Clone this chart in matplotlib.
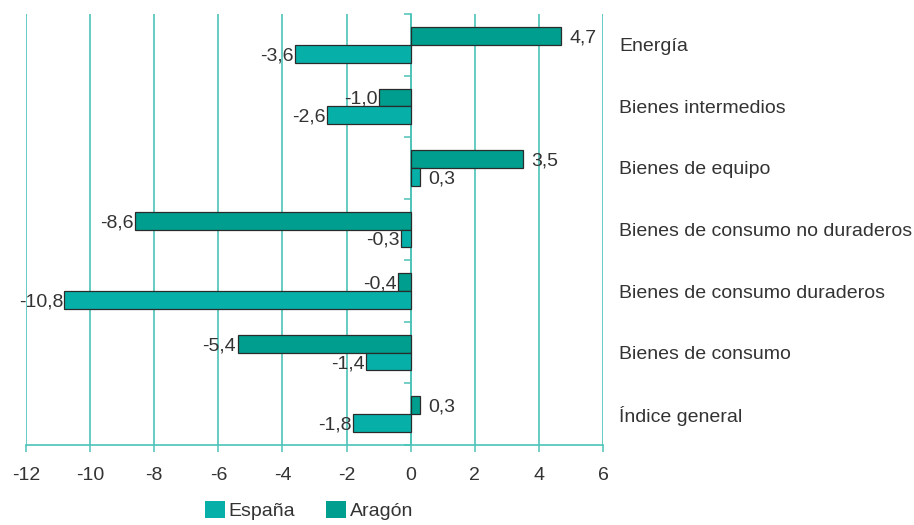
import matplotlib.pyplot as plt
import matplotlib.transforms as mtransforms
from matplotlib.patches import Patch
import numpy as np

# datos (de arriba a abajo)
categorias = ['Energía', 'Bienes intermedios', 'Bienes de equipo',
              'Bienes de consumo no duraderos', 'Bienes de consumo duraderos',
              'Bienes de consumo', 'Índice general']
aragon = [4.7, -1.0, 3.5, -8.6, -0.4, -5.4, 0.3]
espana = [-3.6, -2.6, 0.3, -0.3, -10.8, -1.4, -1.8]
xticks = [-12, -10, -8, -6, -4, -2, 0, 2, 4, 6]

col_esp = '#06b0a8'
col_ara = '#009e8e'
col_grid = '#4cc3b8'
col_txt = '#333333'

plt.rcParams['font.family'] = ['Liberation Sans', 'DejaVu Sans']
plt.rcParams['font.size'] = 14

fig = plt.figure(figsize=(9.14, 5.25), dpi=100)
ax = fig.add_axes([26/914, 1-445/525, 577/914, 431/525])

y = np.arange(len(categorias)) + 0.5
h = 0.29
ax.barh(y - h/2, aragon, h, color=col_ara, edgecolor='#2b2b2b', lw=0.9, zorder=3)
ax.barh(y + h/2, espana, h, color=col_esp, edgecolor='#2b2b2b', lw=0.9, zorder=3)

def etiqueta(v, yy):
    txt = ('%.1f' % v).replace('.', ',')
    if v >= 0:
        ax.annotate(txt, (v, yy), xytext=(6, 0), textcoords='offset points',
                    ha='left', va='center_baseline', color=col_txt, fontsize=14)
    else:
        ax.annotate(txt, (v, yy), xytext=(-1, 0), textcoords='offset points',
                    ha='right', va='center_baseline', color=col_txt, fontsize=14)

for i in range(len(categorias)):
    etiqueta(aragon[i], y[i] - h/2)
    etiqueta(espana[i], y[i] + h/2)

ax.set_xlim(-12, 6)
ax.set_ylim(len(categorias), 0)
ax.set_xticks(xticks)
ax.set_xticklabels([str(t) for t in xticks], color=col_txt)
ax.tick_params(axis='x', length=5, width=1.1, color=col_grid, pad=11)

for t in xticks:
    ax.axvline(t, color=col_grid, lw=1.2, zorder=1)

# eje vertical en cero
ax.spines['left'].set_position(('data', 0))
ax.spines['left'].set_color(col_grid)
ax.spines['left'].set_linewidth(1.2)
ax.set_yticks(np.arange(len(categorias) + 1))
ax.set_yticklabels([])
ax.tick_params(axis='y', length=5, width=1.1, color=col_grid)
ax.spines['bottom'].set_color(col_grid)
ax.spines['bottom'].set_linewidth(1.2)
ax.spines['top'].set_visible(False)
ax.spines['right'].set_visible(False)

trans = mtransforms.blended_transform_factory(ax.transAxes, ax.transData)
for i, c in enumerate(categorias):
    ax.text(1.028, y[i], c, transform=trans, ha='left', va='center_baseline',
            color=col_txt, fontsize=14, clip_on=False)

handles = [Patch(facecolor=col_esp, label='España'),
           Patch(facecolor=col_ara, label='Aragón')]
fig.legend(handles=handles, loc='center', bbox_to_anchor=(309/914, 0.028),
           ncol=2, frameon=False, handlelength=1.0, handleheight=1.0,
           handletextpad=0.2, columnspacing=1.6, fontsize=14,
           labelcolor=col_txt, borderpad=0.1)

fig.savefig('out.png', dpi=100)
